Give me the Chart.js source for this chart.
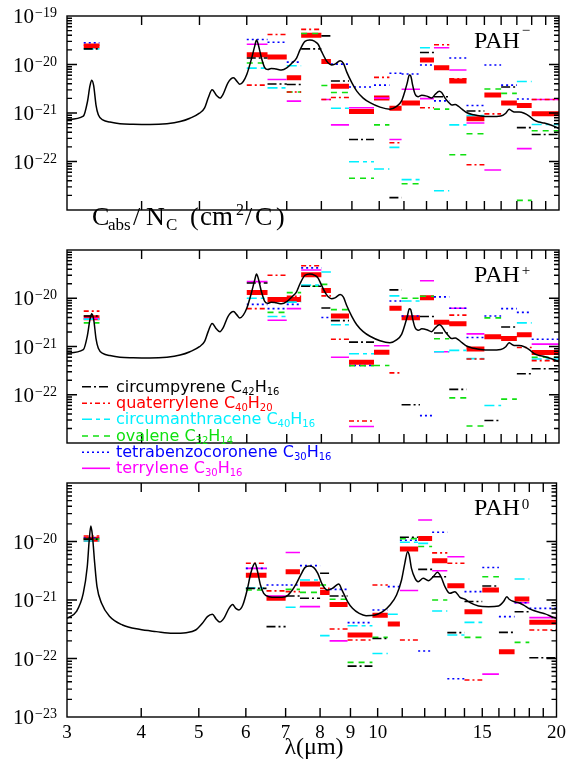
<!DOCTYPE html>
<html lang="en">
<head>
<meta charset="UTF-8">
<title>PAH absorption cross sections</title>
<script src="https://cdn.jsdelivr.net/npm/chart.js@4"></script>
<style>
  body { margin: 0; background: #fff; }
  #wrap { position: relative; width: 571px; height: 763px; }
  canvas { position: absolute; left: 0; }
</style>
</head>
<body>
<div id="wrap">
  <canvas id="pMinus" width="571" height="251" style="top:0px"></canvas>
  <canvas id="pPlus" width="571" height="246" style="top:240px"></canvas>
  <canvas id="pZero" width="571" height="290" style="top:473px"></canvas>
</div>

<script>
// wavelength bins (micron)
const binLo = [3.2, 6.0, 6.5, 7.0, 7.4, 8.0, 8.3, 8.9, 9.8, 10.4, 10.9, 11.7, 12.35, 13.1, 14.0, 15.0, 16.0, 17.0, 18.0];
const binHi = [3.4, 6.5, 7.0, 7.4, 8.0, 8.3, 8.9, 9.8, 10.4, 10.9, 11.7, 12.35, 13.1, 14.0, 15.0, 16.0, 17.0, 18.0, 20.0];

const xTickVals = [3,4,5,6,7,8,9,10,11,12,13,14,15,16,17,18,19,20];
const xTickLabels = [3,4,5,6,7,8,9,10,15,20];

// model curve, ions (used for PAH- and PAH+)
const ionLam = [3.00,3.195,3.245,3.278,3.30,3.325,3.355,3.385,3.45,3.54,3.68,3.87,4.13,4.41,4.64,4.82,5.00,5.10,5.17,5.25,5.34,5.41,5.48,5.58,5.70,5.78,5.84,5.92,6.00,6.115,6.19,6.23,6.27,6.35,6.43,6.51,6.59,6.72,6.86,7.00,7.13,7.27,7.37,7.51,7.65,7.80,7.90,8.00,8.16,8.32,8.43,8.60,8.71,8.82,9.00,9.17,9.40,9.65,10.03,10.42,10.69,10.90,11.04,11.14,11.23,11.29,11.38,11.48,11.63,11.78,12.01,12.24,12.40,12.61,12.72,12.89,13.06,13.23,13.40,13.58,13.76,14.03,14.40,14.78,15.37,15.98,16.29,16.50,16.65,16.82,17.15,17.49,17.83,18.18,18.53,18.89,19.26,19.64,20.0];
const ionC = [7.3e-22,8.6e-22,1.67e-21,3.66e-21,4.76e-21,3.66e-21,1.46e-21,9.2e-22,7.1e-22,6.5e-22,6.0e-22,5.84e-22,5.77e-22,6.0e-22,6.65e-22,7.8e-22,9.9e-22,1.28e-21,2.03e-21,3.0e-21,2.3e-21,2.03e-21,2.47e-21,4.18e-21,5.3e-21,4.47e-21,3.9e-21,4.47e-21,6.2e-21,1.36e-20,2.45e-20,3.19e-20,2.62e-20,1.36e-20,8.6e-21,7.85e-21,8.3e-21,8.05e-21,7.7e-21,8.5e-21,1.05e-20,1.36e-20,2.02e-20,2.99e-20,3.19e-20,2.99e-20,2.62e-20,1.89e-20,1.19e-20,9.8e-21,1.02e-20,1.19e-20,1.05e-20,7.06e-21,4.18e-21,2.82e-21,2.03e-21,1.63e-21,1.32e-21,1.20e-21,1.37e-21,1.78e-21,2.82e-21,4.18e-21,6.04e-21,5.8e-21,3.66e-21,2.47e-21,2.17e-21,2.32e-21,2.23e-21,2.03e-21,2.41e-21,2.82e-21,2.64e-21,2.03e-21,1.67e-21,1.46e-21,1.50e-21,1.37e-21,1.20e-21,1.01e-21,9.2e-22,8.65e-22,8.43e-22,8.65e-22,9.9e-22,1.20e-21,1.12e-21,1.05e-21,1.05e-21,9.9e-22,8.65e-22,7.1e-22,6.5e-22,6.2e-22,5.8e-22,5.3e-22,4.8e-22];

// model curve, neutrals
const neuLam = [3.00,3.11,3.195,3.245,3.27,3.29,3.31,3.34,3.37,3.43,3.54,3.72,3.97,4.24,4.52,4.76,4.94,5.07,5.17,5.27,5.35,5.42,5.51,5.62,5.70,5.77,5.84,5.93,6.03,6.115,6.18,6.22,6.27,6.35,6.43,6.56,6.76,7.00,7.15,7.30,7.42,7.55,7.67,7.80,7.93,8.06,8.22,8.39,8.53,8.60,8.71,8.90,9.07,9.31,9.56,9.87,10.20,10.49,10.76,10.97,11.11,11.23,11.30,11.40,11.56,11.70,11.93,12.17,12.40,12.61,12.78,12.98,13.23,13.49,13.76,14.03,14.31,14.78,15.37,15.98,16.29,16.50,16.65,16.94,17.28,17.61,17.95,18.30,18.77,19.14,19.64,20.0];
const neuC = [4.86e-22,6.3e-22,1.30e-21,3.7e-21,1.06e-20,1.84e-20,1.29e-20,4.24e-21,1.69e-21,8.8e-22,5.2e-22,3.74e-22,3.15e-22,2.88e-22,2.69e-22,2.76e-22,3.07e-22,4.0e-22,5.2e-22,5.7e-22,4.7e-22,4.2e-22,4.86e-22,7.2e-22,8.4e-22,7.2e-22,6.75e-22,8.2e-22,1.48e-21,2.86e-21,3.96e-21,4.24e-21,3.26e-21,1.80e-21,1.30e-21,1.14e-21,1.11e-21,1.14e-21,1.39e-21,1.93e-21,2.67e-21,3.61e-21,3.81e-21,3.61e-21,2.86e-21,1.88e-21,1.48e-21,1.58e-21,1.80e-21,1.88e-21,1.48e-21,9.4e-22,7.2e-22,5.9e-22,5.4e-22,5.5e-22,6.3e-22,8.2e-22,1.22e-21,2.2e-21,4.24e-21,6.7e-21,5.87e-21,3.47e-21,2.35e-21,2.06e-21,2.35e-21,2.14e-21,2.5e-21,2.97e-21,2.5e-21,1.69e-21,1.30e-21,1.39e-21,1.11e-21,1.03e-21,9.0e-22,7.9e-22,7.7e-22,7.9e-22,9.4e-22,1.14e-21,1.03e-21,9.4e-22,9.0e-22,8.2e-22,7.2e-22,6.6e-22,6.1e-22,5.8e-22,5.2e-22,4.86e-22];

// band-integrated values per bin, PAH-
const anCircumpyrene = [2.1e-20,1.36e-20,3.96e-21,3.87e-21,2.1e-20,3.9e-20,4.58e-21,2.84e-22,null,1.8e-23,null,1.77e-20,2.17e-21,null,1.1e-21,null,3.43e-21,5.0e-22,3.6e-22];
const anQuaterrylene = [2.5e-20,3.76e-21,4.15e-20,2.71e-21,5.3e-20,1.9e-21,2.08e-21,null,5.43e-21,2.43e-22,null,1.28e-21,2.55e-20,5.1e-21,8.6e-23,9.6e-22,null,null,1.9e-21];
const anCircumanthracene = [2.1e-20,8.4e-21,3.3e-21,9.4e-21,null,null,1.25e-21,9.9e-23,7.0e-23,1.96e-22,4.23e-23,2.21e-20,2.5e-23,5.7e-22,8.9e-22,null,null,4.47e-21,5.8e-22];
const anOvalene = [null,1.07e-20,null,2.71e-21,4.37e-20,3.7e-21,2.64e-21,4.5e-23,5.7e-22,null,3.48e-23,null,1.2e-21,1.38e-22,3.74e-22,3.13e-21,2.54e-21,1.58e-23,4.3e-22];
const anTetrabenzo = [2.8e-20,3.28e-20,2.88e-20,1.12e-20,null,null,1.02e-20,3.43e-21,3.76e-21,6.6e-21,6.35e-21,9.8e-21,1.78e-21,1.36e-20,1.43e-21,9.8e-21,3.76e-21,1.95e-21,null];
const anTerrylene = [null,2.62e-20,4.9e-21,1.76e-21,null,1.9e-21,5.7e-22,1.28e-21,2.03e-21,2.84e-22,3.09e-21,1.98e-21,2.21e-20,7.7e-21,6.2e-22,6.7e-23,null,1.84e-22,1.9e-21];
const anBand = [2.4e-20,1.59e-20,1.43e-20,5.3e-21,3.99e-20,1.15e-20,3.57e-21,1.08e-21,2.03e-21,1.25e-21,1.6e-21,1.24e-20,8.6e-21,4.58e-21,7.6e-22,2.35e-21,1.6e-21,1.43e-21,9.7e-22];

// PAH+
const catCircumpyrene = [4.3e-21,2.07e-20,null,null,1.77e-20,6.3e-21,3.43e-21,1.23e-21,null,1.49e-20,6.2e-23,4.18e-21,1.9e-21,1.29e-22,null,2.93e-23,2.54e-21,2.73e-22,3.45e-22];
const catQuaterrylene = [5.4e-21,6.1e-21,2.99e-20,1.1e-20,4.73e-20,1.12e-20,1.41e-21,2.86e-23,null,2.84e-22,null,null,null,4.47e-21,5.5e-22,null,null,9.5e-22,5.1e-22];
const catCircumanthracene = [3.7e-21,1.0e-20,4.18e-21,8.3e-21,1.87e-20,3.5e-20,2.82e-21,7.1e-22,null,1.12e-20,8.8e-21,null,7.8e-22,8.3e-22,5.6e-22,6.0e-23,null,3.09e-21,5.5e-22];
const catOvalene = [3.09e-21,null,5.1e-21,1.31e-20,1.77e-20,1.94e-20,5.8e-21,4.0e-22,4.04e-22,null,1.0e-20,1.1e-20,1.45e-21,8.6e-23,2.25e-23,3.92e-21,8.1e-23,null,6.0e-22];
const catTetrabenzo = [null,7.45e-21,6.1e-21,7.45e-21,4.26e-20,4.0e-21,null,4.04e-22,null,8.8e-21,4.3e-21,3.7e-23,1.07e-20,6.2e-21,1.54e-21,4.3e-21,6.1e-21,5.1e-21,1.41e-21];
const catTerrylene = [3.8e-21,2.21e-20,3.5e-21,6.1e-21,3.84e-20,null,6.0e-22,2.2e-23,1.04e-21,null,null,2.3e-20,7.8e-22,6.2e-21,1.83e-21,null,null,null,1.12e-21];
const catBand = [3.96e-21,1.31e-20,9.4e-21,9.4e-21,3.07e-20,1.45e-20,4.3e-21,4.73e-22,7.6e-22,6.2e-21,3.92e-21,1.03e-20,3.2e-21,2.97e-21,8.9e-22,1.6e-21,1.46e-21,1.76e-21,7.5e-22];

// PAH0
const neuCircumpyrene = [1.1e-20,1.58e-21,3.5e-22,1.17e-21,1.07e-21,2.86e-21,1.17e-21,7.4e-23,2.2e-22,null,1.18e-20,3.34e-21,2.5e-21,2.77e-22,9.4e-22,1.73e-21,2.8e-22,6.3e-22,1.03e-22];
const neuQuaterrylene = [1.24e-20,4.24e-21,1.43e-21,1.39e-21,null,1.58e-21,3.2e-22,2.07e-22,1.8e-21,null,2.07e-22,null,6.4e-21,4.24e-21,4.3e-23,null,null,null,3.07e-22];
const neuCircumanthracene = [1.02e-20,1.6e-21,null,7.5e-22,2.2e-21,2.46e-22,null,3.64e-22,1.22e-22,5.7e-22,9.7e-21,9.3e-21,6.5e-22,2.52e-22,4.15e-22,null,null,2.29e-21,null];
const neuOvalene = [1.1e-20,1.48e-21,null,1.52e-21,1.35e-21,1.8e-21,1.03e-21,8.6e-23,2.3e-22,null,1.12e-20,8.2e-21,1.0e-21,null,2.3e-22,2.5e-21,null,1.89e-22,null];
const neuTetrabenzo = [1.15e-20,3.47e-21,1.8e-21,1.8e-21,3.87e-21,null,1.52e-21,4.1e-22,6.75e-22,1.69e-21,1.05e-20,1.34e-22,1.44e-20,4.5e-23,1.39e-21,3.6e-21,5.2e-22,9.0e-22,7.2e-22];
const neuTerrylene = [null,3.47e-21,1.17e-21,6.5e-21,7.7e-22,null,2.0e-22,null,null,null,1.45e-21,2.33e-20,3.17e-21,5.5e-21,null,5.4e-23,null,9.0e-22,5.0e-22];
const neuBand = [1.09e-20,2.64e-21,1.07e-21,3.05e-21,1.88e-21,1.35e-21,8.4e-22,2.52e-22,5.5e-22,3.9e-22,7.45e-21,1.13e-20,4.7e-21,1.76e-21,6.3e-22,1.48e-21,1.31e-22,1.04e-21,4.15e-22];

const molecules = [
  { name: 'circumpyrene', c: '42', h: '16', color: '#000000', dash: [9, 3, 2, 3] },
  { name: 'quaterrylene', c: '40', h: '20', color: '#ff0000', dash: [5, 3, 2, 3] },
  { name: 'circumanthracene', c: '40', h: '16', color: '#00f0ff', dash: [10, 4, 4, 4] },
  { name: 'ovalene', c: '32', h: '14', color: '#10e010', dash: [6, 5] },
  { name: 'tetrabenzocoronene', c: '30', h: '16', color: '#0000ff', dash: [2, 3] },
  { name: 'terrylene', c: '30', h: '16', color: '#ff00ff', dash: [] }
];

function barPoints(vals) {
  const pts = [];
  vals.forEach((v, i) => {
    if (v == null) return;
    pts.push({ x: binLo[i], y: v }, { x: binHi[i], y: v }, { x: binHi[i], y: null });
  });
  return pts;
}

const serif = '"Liberation Serif", "DejaVu Serif", serif';
const sans = '"DejaVu Sans", sans-serif';

function drawYLabel(ctx, py, e) {
  ctx.fillStyle = '#000';
  ctx.textAlign = 'right';
  ctx.font = '21px ' + serif;
  ctx.fillText('10', 34, py + 7);
  ctx.textAlign = 'left';
  ctx.font = '14px ' + serif;
  ctx.fillText('\u2212' + Math.abs(e), 35, py + 1);
}

function drawLegend(ctx) {
  const rows = [146.7, 163.3, 179.3, 196, 212.3, 228.3];
  molecules.forEach((m, i) => {
    const y = rows[i];
    ctx.save();
    ctx.strokeStyle = m.color;
    ctx.lineWidth = 1.6;
    ctx.setLineDash(m.dash);
    ctx.beginPath();
    ctx.moveTo(82, y); ctx.lineTo(110, y);
    ctx.stroke();
    ctx.restore();
    ctx.fillStyle = m.color;
    ctx.textAlign = 'left';
    let x = 116;
    const base = y + 5;
    ctx.font = '16px ' + sans;
    const t1 = m.name + ' C';
    ctx.fillText(t1, x, base); x += ctx.measureText(t1).width;
    ctx.font = '10px ' + sans;
    ctx.fillText(m.c, x, base + 3); x += ctx.measureText(m.c).width;
    ctx.font = '16px ' + sans;
    ctx.fillText('H', x, base); x += ctx.measureText('H').width;
    ctx.font = '10px ' + sans;
    ctx.fillText(m.h, x, base + 3);
  });
}

function drawYTitle(ctx) {
  ctx.fillStyle = '#000';
  ctx.textAlign = 'left';
  const big = '26px ' + serif, small = '17px ' + serif;
  const parts = [
    ['C', big, 92, 225], ['abs', small, 108, 230], ['/', big, 133, 225], ['N', big, 146, 225],
    ['C', small, 166, 230], ['(', big, 190, 225], ['cm', '27px ' + serif, 200, 225],
    ['2', '16px ' + serif, 236, 215], ['/', big, 245, 225], ['C', big, 255, 225], [')', big, 276, 225]
  ];
  parts.forEach(p => { ctx.font = p[1]; ctx.fillText(p[0], p[2], p[3]); });
}

const framePlugin = {
  id: 'frame',
  afterDraw(chart, args, opts) {
    const { ctx, chartArea: a, scales: { x, y } } = chart;
    ctx.save();
    ctx.strokeStyle = '#000';
    ctx.lineWidth = 1.4;
    ctx.setLineDash([]);
    ctx.strokeRect(a.left, a.top, a.right - a.left, a.bottom - a.top);
    ctx.beginPath();
    xTickVals.forEach(v => {
      if (v === 3 || v === 20) return;
      const px = x.getPixelForValue(v);
      ctx.moveTo(px, a.bottom); ctx.lineTo(px, a.bottom - 9);
      ctx.moveTo(px, a.top); ctx.lineTo(px, a.top + 9);
    });
    for (let e = -23; e < -19; e++) {
      for (let m = 1; m <= 9; m++) {
        if (m === 1 && e === -23) continue;
        const py = y.getPixelForValue(m * Number('1e' + e));
        const len = m === 1 ? 10 : 5;
        ctx.moveTo(a.left, py); ctx.lineTo(a.left + len, py);
        ctx.moveTo(a.right, py); ctx.lineTo(a.right - len, py);
      }
    }
    ctx.stroke();

    opts.yLabels.forEach(e => drawYLabel(ctx, y.getPixelForValue(Number('1e' + e)), e));

    // panel tag
    ctx.fillStyle = '#000';
    ctx.textAlign = 'left';
    ctx.font = '24px ' + serif;
    ctx.fillText('PAH', 474, a.top + 32);
    const tagEnd = 474 + ctx.measureText('PAH').width;
    ctx.font = '15px ' + serif;
    ctx.fillText(opts.sup, tagEnd + 2, a.top + opts.supDy);

    if (opts.title) drawYTitle(ctx);
    if (opts.legend) drawLegend(ctx);
    if (opts.xTitle) {
      ctx.font = '24px ' + serif;
      ctx.textAlign = 'center';
      ctx.fillText('\u03bb(\u03bcm)', 314, a.bottom + 37);
    }
    ctx.restore();
  }
};

function makePanel(id, lam, curve, sets, band, cfg) {
  const datasets = [{
    data: lam.map((v, i) => ({ x: v, y: curve[i] })),
    borderColor: '#000', borderWidth: 1.5, cubicInterpolationMode: 'monotone'
  }];
  molecules.forEach((m, i) => {
    datasets.push({
      data: barPoints(sets[i]), borderColor: m.color, borderWidth: 1.6,
      borderDash: m.dash, spanGaps: false
    });
  });
  datasets.push({ data: barPoints(band), borderColor: '#ff0000', borderWidth: 5, spanGaps: false });

  return new Chart(document.getElementById(id), {
    type: 'line',
    data: { datasets },
    options: {
      responsive: false, animation: false, devicePixelRatio: 1,
      layout: { padding: { left: 0, right: 12, top: cfg.padTop, bottom: cfg.padBottom } },
      elements: { point: { radius: 0 }, line: { borderCapStyle: 'butt', tension: 0 } },
      plugins: { legend: { display: false }, tooltip: { enabled: false }, frame: cfg.frame },
      scales: {
        x: {
          type: 'logarithmic', min: 3, max: 20, display: cfg.showX,
          grid: { display: false, drawTicks: false }, border: { display: false },
          afterBuildTicks: s => { s.ticks = xTickVals.map(v => ({ value: v })); },
          afterFit: s => { s.height = 40; },
          ticks: {
            autoSkip: false, maxRotation: 0, padding: 5, color: '#000',
            font: { family: serif, size: 19 },
            callback: v => xTickLabels.includes(v) ? String(v) : ''
          }
        },
        y: {
          type: 'logarithmic', min: 1e-23, max: 1e-19,
          grid: { display: false, drawTicks: false }, border: { display: false },
          ticks: { display: false },
          afterFit: s => { s.width = 67; }
        }
      }
    },
    plugins: [framePlugin]
  });
}

makePanel('pMinus', ionLam, ionC,
  [anCircumpyrene, anQuaterrylene, anCircumanthracene, anOvalene, anTetrabenzo, anTerrylene], anBand,
  { padTop: 16, padBottom: 1, showX: false,
    frame: { yLabels: [-19, -20, -21, -22], sup: '\u2212', supDy: 19, title: true } });

makePanel('pPlus', ionLam, ionC,
  [catCircumpyrene, catQuaterrylene, catCircumanthracene, catOvalene, catTetrabenzo, catTerrylene], catBand,
  { padTop: 10, padBottom: 3, showX: false,
    frame: { yLabels: [-20, -21, -22], sup: '+', supDy: 25, legend: true } });

makePanel('pZero', neuLam, neuC,
  [neuCircumpyrene, neuQuaterrylene, neuCircumanthracene, neuOvalene, neuTetrabenzo, neuTerrylene], neuBand,
  { padTop: 10, padBottom: 6, showX: true,
    frame: { yLabels: [-20, -21, -22, -23], sup: '0', supDy: 26, xTitle: true } });
</script>
</body>
</html>
